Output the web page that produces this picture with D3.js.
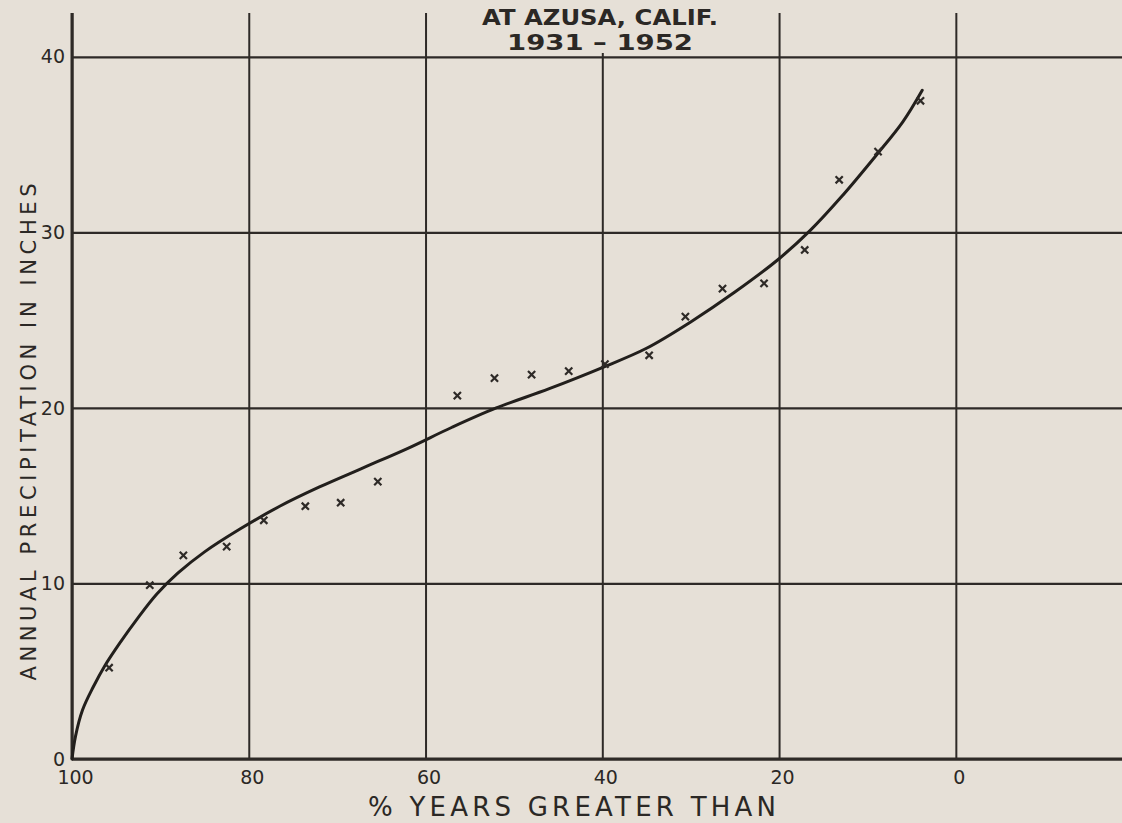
<!DOCTYPE html>
<html>
<head>
<meta charset="utf-8">
<script src="https://cdn.jsdelivr.net/npm/d3@7"></script>
<style>
  body { margin: 0; background: #e6e0d7; }
  svg text { font-family: "DejaVu Sans", sans-serif; fill: #2b2825; }
</style>
</head>
<body>
<div id="chart"></div>
<script>
// chart text
const titleLines = ["AT AZUSA, CALIF.", "1931 – 1952"];
const xLabel = "% YEARS GREATER THAN";
const yLabel = "ANNUAL PRECIPITATION IN INCHES";
const xTicks = [100, 80, 60, 40, 20, 0];
const yTicks = [0, 10, 20, 30, 40];

// plotted years (the x marks)
const obsPct = [95.8, 91.2, 87.4, 82.5, 78.3, 73.6, 69.6, 65.4, 56.4, 52.2, 48.0, 43.8, 39.7, 34.7, 30.6, 26.4, 21.7, 17.1, 13.2, 8.8, 4.0];
const obsPrecip = [5.2, 9.9, 11.6, 12.1, 13.6, 14.4, 14.6, 15.8, 20.7, 21.7, 21.9, 22.1, 22.5, 23.0, 25.2, 26.8, 27.1, 29.0, 33.0, 34.6, 37.5];

// smoothed frequency curve
const curvePct = [100, 99.6, 98.8, 97.6, 96.3, 94.6, 92.6, 90.4, 88.0, 85.0, 81.0, 76.5, 72.0, 67.0, 62.0, 57.0, 52.0, 46.0, 40.0, 35.0, 30.0, 25.0, 20.0, 16.5, 13.0, 9.0, 6.0, 3.8];
const curvePrecip = [0, 1.3, 2.8, 4.1, 5.3, 6.6, 8.0, 9.4, 10.6, 11.8, 13.1, 14.4, 15.5, 16.6, 17.7, 18.9, 20.0, 21.1, 22.3, 23.4, 24.9, 26.6, 28.5, 30.1, 32.0, 34.4, 36.3, 38.1];

const ink = "#2e2a27";

// set the dimensions and margins of the graph
const margin = {top: 13, right: 0, bottom: 64, left: 72},
  width = 1122 - margin.left - margin.right,
  height = 823 - margin.top - margin.bottom;

const root = d3.select("#chart")
.append("svg")
  .attr("width", width + margin.left + margin.right)
  .attr("height", height + margin.top + margin.bottom);

root.append("rect")
  .attr("width", 1122).attr("height", 823)
  .attr("fill", "#e6e0d7");

const svg = root.append("g")
  .attr("transform", "translate(" + margin.left + "," + margin.top + ")");

// scales: grid runs past 0% to the right edge
const x = d3.scaleLinear().domain([100, -18.8]).range([0, width]);
const y = d3.scaleLinear().domain([0, 42.5]).range([height, 0]);

// vertical grid + x labels
const xAxis = svg.append("g")
  .attr("transform", "translate(0," + height + ")")
  .call(d3.axisBottom(x).tickValues(xTicks).tickSize(-height).tickPadding(12));
xAxis.select(".domain").remove();
xAxis.selectAll("line").attr("stroke", ink).attr("stroke-width", 2);
xAxis.selectAll("text")
  .attr("font-size", 19)
  .attr("dx", 3)
  .style("font-family", "DejaVu Sans, sans-serif")
  .attr("fill", "#2b2825");

// horizontal grid + y labels
const yAxis = svg.append("g")
  .call(d3.axisLeft(y).tickValues(yTicks).tickSize(-width).tickPadding(7));
yAxis.select(".domain").remove();
yAxis.selectAll("line").attr("stroke", ink).attr("stroke-width", 2.2);
yAxis.selectAll("text")
  .attr("font-size", 19)
  .style("font-family", "DejaVu Sans, sans-serif")
  .attr("fill", "#2b2825");

// heavier left and bottom axis lines
svg.append("line")
  .attr("x1", x(100)).attr("x2", x(100))
  .attr("y1", 0).attr("y2", height)
  .attr("stroke", ink).attr("stroke-width", 3);
svg.append("line")
  .attr("x1", x(100)).attr("x2", width)
  .attr("y1", height).attr("y2", height)
  .attr("stroke", ink).attr("stroke-width", 3);

// frequency curve
const curve = curvePct.map((p, i) => [p, curvePrecip[i]]);
svg.append("path")
  .datum(curve)
  .attr("fill", "none")
  .attr("stroke", "#221f1c")
  .attr("stroke-width", 3)
  .attr("stroke-linecap", "round")
  .attr("d", d3.line()
    .x(d => x(d[0]))
    .y(d => y(d[1]))
    .curve(d3.curveCatmullRom.alpha(0.5)));

// x marks
const s = 3.6;
svg.selectAll(".mark")
  .data(obsPct.map((p, i) => [p, obsPrecip[i]]))
  .enter()
  .append("path")
    .attr("class", "mark")
    .attr("transform", d => "translate(" + x(d[0]) + "," + y(d[1]) + ")")
    .attr("d", `M${-s},${-s}L${s},${s}M${-s},${s}L${s},${-s}`)
    .attr("stroke", ink)
    .attr("stroke-width", 2.2)
    .attr("fill", "none");

// title block knocks out the grid behind it
root.append("rect")
  .attr("x", 478).attr("y", 0)
  .attr("width", 246).attr("height", 53)
  .attr("fill", "#e6e0d7");
root.selectAll(".title")
  .data(titleLines)
  .enter()
  .append("text")
    .attr("class", "title")
    .attr("x", 600)
    .attr("y", (d, i) => 25 + i * 25)
    .attr("text-anchor", "middle")
    .attr("font-size", 21)
    .attr("font-weight", "bold")
    .attr("textLength", (d, i) => i === 0 ? 236 : 186)
    .attr("lengthAdjust", "spacingAndGlyphs")
    .text(d => d);

// axis titles
root.append("text")
  .attr("x", 572).attr("y", 816)
  .attr("text-anchor", "middle")
  .attr("font-size", 26)
  .attr("textLength", 408)
  .attr("lengthAdjust", "spacing")
  .text(xLabel);

root.append("text")
  .attr("transform", "translate(36,432) rotate(-90)")
  .attr("text-anchor", "middle")
  .attr("font-size", 21)
  .attr("textLength", 497)
  .attr("lengthAdjust", "spacing")
  .text(yLabel);
</script>
</body>
</html>
